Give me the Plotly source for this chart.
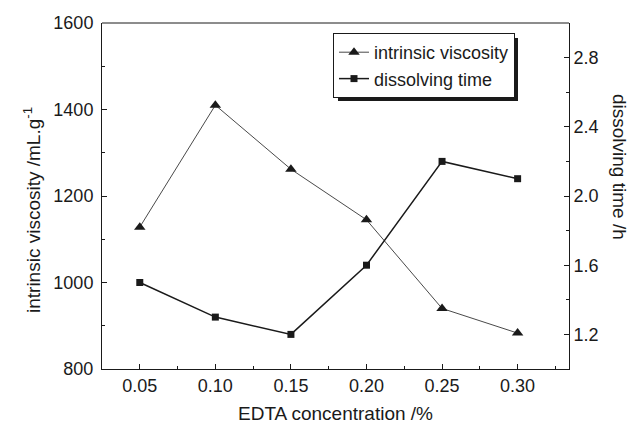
import plotly.graph_objects as go

edta = [0.05, 0.10, 0.15, 0.20, 0.25, 0.30]
viscosity = [1128, 1410, 1262, 1145, 940, 883]
dissolving_time = [1.5, 1.3, 1.2, 1.6, 2.2, 2.1]
x_ticks = [0.05, 0.10, 0.15, 0.20, 0.25, 0.30]
x_tick_labels = ["0.05", "0.10", "0.15", "0.20", "0.25", "0.30"]

FONT = "Liberation Sans, Arial, sans-serif"
INK = "#1a1a1a"
FS = 18
TFS = 19

fig = go.Figure()
fig.add_trace(go.Scatter(
    x=edta, y=viscosity, name="intrinsic viscosity", mode="lines+markers",
    line=dict(color=INK, width=0.8),
    marker=dict(symbol="triangle-up", size=10, color=INK),
))
fig.add_trace(go.Scatter(
    x=edta, y=dissolving_time, name="dissolving time", mode="lines+markers",
    line=dict(color=INK, width=1.5),
    marker=dict(symbol="square", size=7, color=INK),
    yaxis="y2",
))

axis_common = dict(showline=True, linecolor=INK, linewidth=1, mirror=False,
                   showgrid=False, zeroline=False, ticks="inside", ticklen=5,
                   tickcolor=INK, tickfont=dict(family=FONT, size=FS, color=INK),
                   automargin=False)

fig.update_layout(
    width=638, height=426,
    margin=dict(l=102, r=69, t=23, b=57),
    paper_bgcolor="white", plot_bgcolor="white",
    font=dict(family=FONT, color=INK),
    showlegend=True,
    legend=dict(x=(333 - 102) / 467, y=(369 - 33) / 346, xanchor="left", yanchor="top",
                bgcolor="white", bordercolor=INK, borderwidth=1,
                font=dict(family=FONT, size=FS, color=INK),
                tracegroupgap=0, itemwidth=30),
    xaxis=dict(**axis_common, range=[0.025, 0.334], tickvals=x_ticks,
               ticktext=x_tick_labels,
               minor=dict(ticks="inside", ticklen=3, tickcolor=INK, dtick=0.025, tick0=0.025),
               title=dict(text="EDTA concentration /%", font=dict(family=FONT, size=TFS, color=INK), standoff=12)),
    yaxis=dict(**axis_common, range=[800, 1600], dtick=200, tick0=800,
               ticklabelstandoff=4,
               minor=dict(ticks="inside", ticklen=3, tickcolor=INK, dtick=100)),
    yaxis2=dict(**axis_common, overlaying="y", side="right", range=[1.0, 3.0],
                tickvals=[1.2, 1.6, 2.0, 2.4, 2.8], ticktext=["1.2", "1.6", "2.0", "2.4", "2.8"],
                minor=dict(ticks="inside", ticklen=3, tickcolor=INK, tickvals=[1.4, 1.8, 2.2, 2.6])),
)

# top border line of the frame
fig.add_shape(type="line", xref="paper", yref="paper", x0=0, x1=1, y0=1, y1=1,
              line=dict(color=INK, width=1))
# legend drop shadow
fig.add_shape(type="rect", xref="paper", yref="paper",
              x0=(338 - 102) / 467, x1=(518 - 102) / 467,
              y0=(369 - 101) / 346, y1=(369 - 38) / 346,
              fillcolor=INK, line=dict(width=0), layer="above")

fig.add_annotation(text="intrinsic viscosity /mL.g<sup>-1</sup>", xref="paper", yref="paper",
                   x=(32 - 102) / 467, y=(369 - 210) / 346, xanchor="center", yanchor="middle",
                   textangle=-90, showarrow=False,
                   font=dict(family=FONT, size=TFS, color=INK))
fig.add_annotation(text="dissolving time /h", xref="paper", yref="paper",
                   x=(620 - 102) / 467, y=(369 - 167) / 346, xanchor="center", yanchor="middle",
                   textangle=90, showarrow=False,
                   font=dict(family=FONT, size=TFS, color=INK))

fig.write_html("out.html")
